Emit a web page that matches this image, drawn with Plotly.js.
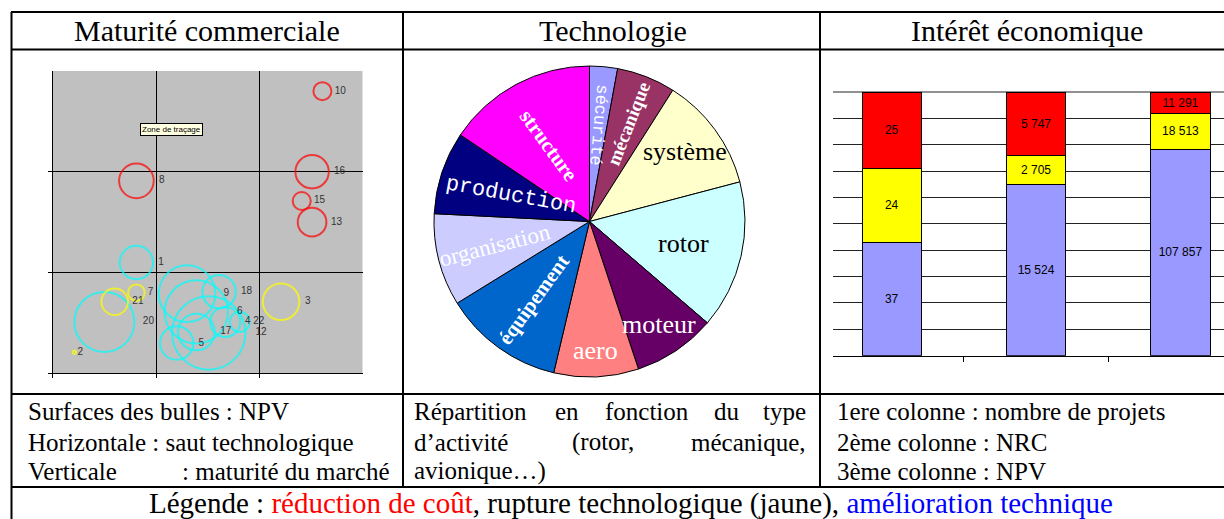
<!DOCTYPE html>
<html>
<head>
<meta charset="utf-8">
<script src="https://cdn.plot.ly/plotly-3.0.1.min.js"></script>
<style>
  html, body { margin: 0; padding: 0; background: #fff; }
  #chart { width: 1224px; height: 519px; }
</style>
</head>
<body>
<div id="chart"></div>
<script>
// Bubble chart: project number, saut technologique (x), maturité (y), NPV (bubble area)
const redIds = ['10', '8', '16', '15', '13'];
const redX = [2.61, 0.81, 2.51, 2.41, 2.51];
const redY = [2.80, 1.91, 2.00, 1.71, 1.50];
const redNpv = [81, 300, 279, 81, 205];

const yellowIds = ['7', '21', '2', '3'];
const yellowX = [0.81, 0.60, 0.21, 2.21];
const yellowY = [0.80, 0.71, 0.21, 0.71];
const yellowNpv = [69, 177, 3, 335];

const cyanIds = ['1', '20', '9', '18', '6', '12', '5', '17', '4', '22'];
const cyanX = [0.81, 0.50, 1.30, 1.61, 1.39, 1.51, 1.20, 1.39, 1.67, 1.81];
const cyanY = [1.10, 0.51, 0.79, 0.81, 0.61, 0.40, 0.30, 0.41, 0.51, 0.51];
const cyanNpv = [279, 900, 802, 279, 1003, 1344, 279, 336, 225, 100];

// Pie: type d'activité
const pieLabels = ['sécurité', 'mécanique', 'système', 'rotor', 'moteur', 'aero',
                   'équipement', 'organisation', 'production', 'structure'];
const pieValues = [2.9, 6.1, 11.9, 15.4, 8.6, 8.8, 12.5, 9.6, 8.6, 15.6];
const pieColors = ['#9999FF', '#993366', '#FFFFCC', '#CCFFFF', '#660066',
                   '#FF8080', '#0066CC', '#CCCCFF', '#000080', '#FF00FF'];

// Stacked 100% bars: nombre de projets, NRC, NPV
const barCats = ['nombre de projets', 'NRC', 'NPV'];
const barBlue = [37, 15524, 107857];
const barYellow = [24, 2705, 18513];
const barRed = [25, 5747, 11291];

const W = 1224, H = 519;
const px = x => x / W;
const py = y => 1 - y / H;
const SERIF = 'Liberation Serif, Times New Roman, serif';

// thousands with a plain space, like the source document
const fmt = v => String(v).replace(/\B(?=(\d{3})+(?!\d))/g, ' ');

function bubbleTrace(ids, xs, ys, npv, color) {
    return {
        type: 'scatter', mode: 'markers+text', xaxis: 'x', yaxis: 'y',
        x: xs, y: ys, text: ids, textposition: 'middle right',
        textfont: { family: 'Liberation Sans, Arial, sans-serif', size: 10, color: '#333' },
        marker: {
            size: npv, sizemode: 'area', sizeref: 0.5,
            color: 'rgba(0,0,0,0)', line: { color: color, width: 2 }
        },
        cliponaxis: false, hoverinfo: 'skip', showlegend: false
    };
}

function barTrace(vals, color) {
    return {
        type: 'bar', xaxis: 'x2', yaxis: 'y2', x: barCats, y: vals,
        width: 0.41, text: vals.map(fmt), textposition: 'inside',
        insidetextanchor: 'middle', textangle: 0, constraintext: 'none',
        textfont: { family: 'Liberation Sans, Arial, sans-serif', size: 12, color: '#000' },
        marker: { color: color, line: { color: '#000', width: 1 } },
        hoverinfo: 'skip', showlegend: false
    };
}

const pieDom = { x0: 434, x1: 745, y0: 66, y1: 377 };

const traces = [
    bubbleTrace(cyanIds, cyanX, cyanY, cyanNpv, '#00FFFF'),
    bubbleTrace(yellowIds, yellowX, yellowY, yellowNpv, '#FFFF00'),
    bubbleTrace(redIds, redX, redY, redNpv, '#FF0000'),
    {
        type: 'pie', labels: pieLabels, values: pieValues, sort: false,
        direction: 'clockwise', rotation: 0, textinfo: 'none', hoverinfo: 'skip',
        marker: { colors: pieColors, line: { color: '#000', width: 1 } },
        domain: { x: [px(pieDom.x0), px(pieDom.x1)], y: [py(pieDom.y1), py(pieDom.y0)] },
        showlegend: false
    },
    barTrace(barBlue, '#9999FF'),
    barTrace(barYellow, '#FFFF00'),
    barTrace(barRed, '#FF0000')
];

// pie labels, placed from the slice angles
const labelStyle = [
    { f: 0.62, mode: 'in',  color: '#fff', family: 'Liberation Mono, monospace', size: 17 },
    { f: 0.68, mode: 'out', color: '#fff', family: SERIF, size: 19, bold: true },
    { f: 0.76, mode: 'h',   color: '#000', family: SERIF, size: 26 },
    { f: 0.62, mode: 'h',   color: '#000', family: SERIF, size: 26 },
    { f: 0.80, mode: 'h',   color: '#fff', family: SERIF, size: 26 },
    { f: 0.83, mode: 'h',   color: '#fff', family: SERIF, size: 26 },
    { f: 0.62, mode: 'in',  color: '#fff', family: SERIF, size: 21, bold: true },
    { f: 0.63, mode: 'in',  color: '#fff', family: SERIF, size: 23 },
    { f: 0.53, mode: 'in',  color: '#fff', family: 'Liberation Mono, monospace', size: 22, turn: -8 },
    { f: 0.56, mode: 'in',  color: '#fff', family: SERIF, size: 21, bold: true, turn: -8 }
];
const pieTotal = pieValues.reduce((a, b) => a + b, 0);
const cx = (pieDom.x0 + pieDom.x1) / 2, cy = (pieDom.y0 + pieDom.y1) / 2;
const R = (pieDom.x1 - pieDom.x0) / 2;
let acc = 0;
const pieAnn = pieValues.map((v, i) => {
    const mid = (acc + v / 2) / pieTotal * 360;
    acc += v;
    const st = labelStyle[i];
    const rad = mid * Math.PI / 180;
    let ang = 0;
    if (st.mode === 'in') ang = mid - 270;
    if (st.mode === 'out') ang = mid - 90;
    ang += st.turn || 0;
    while (ang > 180) ang -= 360;
    while (ang < -180) ang += 360;
    return {
        xref: 'paper', yref: 'paper',
        x: px(cx + st.f * R * Math.sin(rad)), y: py(cy - st.f * R * Math.cos(rad)),
        xanchor: 'center', yanchor: 'middle', showarrow: false, textangle: ang,
        text: st.bold ? '<b>' + pieLabels[i] + '</b>' : pieLabels[i],
        font: { family: st.family, size: st.size, color: st.color }
    };
});

function txt(text, x, y, size, anchor) {
    return {
        xref: 'paper', yref: 'paper', x: px(x), y: py(y), text: text,
        xanchor: anchor || 'left', yanchor: 'middle', showarrow: false,
        font: { family: SERIF, size: size, color: '#000' }
    };
}

const B = 25;  // body text size
const annotations = [
    txt('Maturité commerciale', 207, 31, 30, 'center'),
    txt('Technologie', 613, 31, 30, 'center'),
    txt('Intérêt économique', 1027, 31, 30, 'center'),

    txt('Surfaces des bulles : NPV', 26, 411, B),
    txt('Horizontale : saut technologique', 26, 442, B),
    txt('Verticale', 26, 471, B),
    txt(': maturité du marché', 392, 471, B, 'right'),

    txt('Répartition', 412, 411, B),
    txt('en', 567, 411, B, 'center'),
    txt('fonction', 647, 411, B, 'center'),
    txt('du', 727, 411, B, 'center'),
    txt('type', 808, 411, B, 'right'),
    txt('d’activité', 412, 442, B),
    txt('(rotor,', 603, 442, B, 'center'),
    txt('mécanique,', 808, 442, B, 'right'),
    txt('avionique…)', 412, 471, B),

    txt('1ere colonne : nombre de projets', 835, 411, B),
    txt('2ème colonne : NRC', 835, 442, B),
    txt('3ème colonne : NPV', 835, 471, B),

    txt('Légende : <span style="color:#FF0000">réduction de coût</span>, rupture technologique (jaune), ' +
        '<span style="color:#0000FF">amélioration technique</span>', 631, 503, 29, 'center'),

    {
        xref: 'paper', yref: 'paper', x: px(140), y: py(123), xanchor: 'left', yanchor: 'top',
        text: 'Zone de traçage', showarrow: false, bgcolor: '#FFFFE1',
        bordercolor: '#000', borderwidth: 1, borderpad: 1,
        font: { family: 'Liberation Sans, Arial, sans-serif', size: 8, color: '#000' }
    }
].concat(pieAnn);

// table rules, in page pixels
const rules = [
    [11, 12, W, 12], [11, 49.5, W, 49.5], [11, 394, W, 394], [11, 487, W, 487],
    [11.5, 12, 11.5, H], [403, 12, 403, 487], [820, 12, 820, 487]
];
const shapes = rules.map(r => ({
    type: 'line', xref: 'paper', yref: 'paper',
    x0: px(r[0]), y0: py(r[1]), x1: px(r[2]), y1: py(r[3]),
    line: { color: '#000', width: 2 }
}));
shapes.push({
    type: 'rect', xref: 'x', yref: 'y', x0: 0, x1: 3, y0: 0, y1: 3,
    fillcolor: '#C0C0C0', line: { width: 0 }, layer: 'below'
});
// top gridline of the 100% bar chart (Plotly leaves it out at the range end)
shapes.push({
    type: 'line', xref: 'paper', yref: 'paper', x0: px(833), x1: 1, y0: py(92), y1: py(92),
    line: { color: '#222', width: 1 }, layer: 'below'
});

const bubbleAxis = {
    range: [0, 3], tickvals: [0, 1, 2], showticklabels: false, ticks: 'outside',
    ticklen: 4, tickcolor: '#000', showgrid: true, gridcolor: '#000', gridwidth: 1,
    showline: true, linecolor: '#000', linewidth: 1, zeroline: false, fixedrange: true
};

const layout = {
    width: W, height: H,
    margin: { l: 0, r: 0, t: 0, b: 0 },
    paper_bgcolor: '#fff', plot_bgcolor: 'rgba(0,0,0,0)',
    showlegend: false, barmode: 'stack', barnorm: 'percent',
    xaxis: Object.assign({}, bubbleAxis, { domain: [px(52.7), px(362.7)], anchor: 'y' }),
    yaxis: Object.assign({}, bubbleAxis, { domain: [py(373.3), py(71)], anchor: 'x' }),
    xaxis2: {
        domain: [px(833), 1], anchor: 'y2', type: 'category', range: [-0.407, 2.301],
        tickson: 'boundaries', ticks: 'outside', ticklen: 5, tickcolor: '#000',
        showticklabels: false, showgrid: false, showline: true, linecolor: '#000',
        linewidth: 1, fixedrange: true
    },
    yaxis2: {
        domain: [py(355.7), py(92)], anchor: 'x2', range: [0, 100], dtick: 10,
        showticklabels: false, showgrid: true, gridcolor: '#222', gridwidth: 1,
        zeroline: false, showline: false, fixedrange: true
    },
    shapes: shapes,
    annotations: annotations
};

Plotly.newPlot('chart', traces, layout, { staticPlot: true });
</script>
</body>
</html>
